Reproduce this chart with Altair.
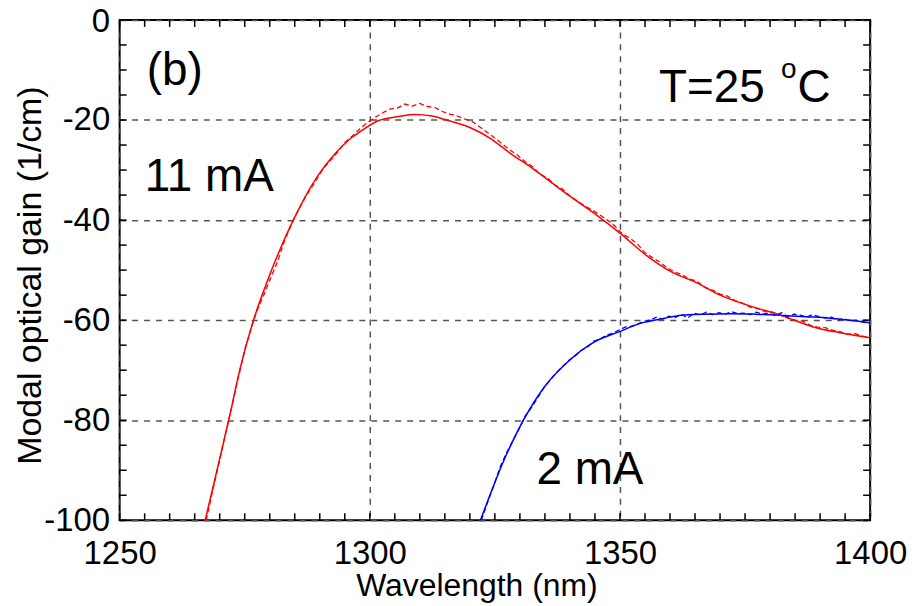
import altair as alt
import pandas as pd

# ---- data ----
red_fit_wl = [1267.1, 1269.5, 1271.8, 1274.0, 1276.6, 1279.6, 1284.7, 1289.5, 1293.0, 1296.4,
              1297.8, 1301.8, 1305.8, 1309.1, 1312.4, 1316.0, 1320.0, 1324.0, 1328.0, 1332.3,
              1339.0, 1345.6, 1350.0, 1355.6, 1360.0, 1365.5, 1370.0, 1375.5, 1382.1, 1388.8,
              1394.0, 1400.0]
red_fit_g = [-100.0, -89.8, -80.0, -70.0, -60.5, -52.0, -40.0, -31.3, -26.8, -23.5,
             -22.5, -20.1, -19.3, -18.9, -19.2, -20.2, -21.5, -23.6, -26.6, -29.5,
             -34.5, -39.2, -42.6, -47.3, -50.2, -52.6, -55.0, -57.0, -59.0, -61.4,
             -62.5, -63.5]

blue_fit_wl = [1322.1, 1323.7, 1326.3, 1330.7, 1335.0, 1339.6, 1345.0, 1349.9, 1354.2, 1359.0,
               1362.2, 1367.0, 1372.2, 1377.0, 1382.0, 1387.0, 1392.0, 1396.0, 1400.0]
blue_fit_g = [-100.0, -95.8, -89.2, -80.0, -73.2, -68.3, -64.3, -62.3, -60.6, -59.6,
              -59.0, -58.8, -58.7, -58.8, -59.0, -59.3, -59.6, -60.0, -60.5]

red_meas_wl = [1267.3, 1268.5, 1270.0, 1271.2, 1272.5, 1273.6, 1275.0, 1276.3, 1277.5, 1278.8,
               1280.0, 1281.5, 1283.0, 1284.5, 1286.0, 1287.5, 1289.0, 1290.5, 1292.0, 1293.5,
               1295.0, 1296.5, 1298.0, 1299.5, 1301.0, 1302.5, 1304.0, 1305.5, 1307.0, 1308.5,
               1310.0, 1311.5, 1313.0, 1314.5, 1316.0, 1317.5, 1319.0, 1320.5, 1322.0, 1323.5,
               1325.0, 1326.5, 1328.0, 1329.5, 1331.0, 1332.5, 1334.0, 1335.5, 1337.0, 1338.5,
               1340.0, 1341.5, 1343.0, 1344.5, 1346.0, 1347.5, 1349.0, 1350.5, 1352.0, 1353.5,
               1355.0, 1356.5, 1358.0, 1359.5, 1361.0, 1362.5, 1364.0, 1365.5, 1367.0, 1368.5,
               1370.0, 1371.5, 1373.0, 1374.5, 1376.0, 1377.5, 1379.0, 1380.5, 1382.0, 1383.5,
               1385.0, 1386.5, 1388.0, 1389.5, 1391.0, 1392.5, 1394.0, 1395.5, 1397.0, 1398.5, 1400.0]
red_meas_g = [-100.0, -94.5, -88.0, -82.5, -77.0, -72.0, -66.0, -61.5, -58.0, -55.0,
              -52.0, -48.5, -44.0, -40.5, -37.5, -34.8, -32.5, -30.0, -28.2, -26.5,
              -24.5, -23.2, -21.8, -20.5, -19.5, -18.6, -17.8, -17.6, -16.8, -17.2,
              -16.7, -17.3, -17.5, -18.3, -18.8, -19.2, -19.8, -20.3, -21.4, -22.5,
              -23.6, -24.8, -26.0, -27.0, -28.3, -29.3, -30.8, -31.6, -33.0, -33.8,
              -35.2, -36.2, -37.2, -38.0, -39.0, -40.0, -41.2, -42.8, -43.6, -44.8,
              -46.5, -47.5, -48.4, -49.6, -50.4, -51.0, -51.8, -52.3, -53.5, -54.0,
              -54.8, -55.2, -56.1, -56.6, -57.4, -57.7, -58.3, -58.4, -59.0, -59.6,
              -60.0, -60.2, -61.0, -61.4, -61.5, -62.0, -62.3, -62.8, -62.7, -63.2, -63.6]

blue_meas_wl = [1322.3, 1323.5, 1324.8, 1326.0, 1327.2, 1328.5, 1329.8, 1331.0, 1332.3, 1333.5,
                1334.8, 1336.0, 1337.3, 1338.5, 1339.8, 1341.0, 1342.3, 1343.5, 1344.8, 1346.0,
                1347.3, 1348.5, 1349.8, 1351.0, 1352.3, 1353.5, 1354.8, 1356.0, 1357.3, 1358.5,
                1359.8, 1361.0, 1362.3, 1363.5, 1364.8, 1366.0, 1367.3, 1368.5, 1369.8, 1371.0,
                1372.3, 1373.5, 1374.8, 1376.0, 1377.3, 1378.5, 1379.8, 1381.0, 1382.3, 1383.5,
                1384.8, 1386.0, 1387.3, 1388.5, 1389.8, 1391.0, 1392.3, 1393.5, 1394.8, 1396.0,
                1397.3, 1398.5, 1400.0]
blue_meas_g = [-100.0, -96.5, -93.0, -89.5, -86.8, -84.3, -81.8, -79.2, -77.5, -75.6,
               -73.5, -72.0, -70.5, -69.3, -68.0, -67.2, -66.0, -65.4, -64.2, -63.8,
               -63.0, -62.6, -62.0, -61.4, -61.2, -60.8, -60.2, -60.0, -59.4, -59.8,
               -59.2, -59.5, -58.8, -59.6, -58.6, -59.0, -58.4, -58.9, -58.5, -58.8,
               -58.3, -58.7, -58.6, -58.9, -58.4, -58.8, -58.6, -59.1, -58.5, -59.3,
               -58.8, -59.0, -59.4, -58.9, -59.3, -59.6, -59.4, -60.0, -59.7, -60.1,
               -60.0, -60.4, -60.6]

x_ticks_major = [1250, 1300, 1350, 1400]
y_ticks_major = [-100, -80, -60, -40, -20, 0]
x_ticks_minor = list(range(1250, 1401, 5))
y_ticks_minor = list(range(-100, 1, 5))

ann_text = ["(b)", "11 mA", "2 mA", "T=25", "o", "C"]
ann_x = [1255.4, 1255.0, 1333.3, 1357.8, 1382.2, 1385.5]
ann_y = [-13.1, -34.1, -92.8, -16.3, -11.6, -16.3]
ann_size = [46, 46, 46, 46, 28, 46]

# ---- build tables ----
fit = pd.concat([
    pd.DataFrame({"wl": red_fit_wl, "g": red_fit_g, "s": "11 mA"}),
    pd.DataFrame({"wl": blue_fit_wl, "g": blue_fit_g, "s": "2 mA"}),
])
meas = pd.concat([
    pd.DataFrame({"wl": red_meas_wl, "g": red_meas_g, "s": "11 mA"}),
    pd.DataFrame({"wl": blue_meas_wl, "g": blue_meas_g, "s": "2 mA"}),
])
ann = pd.DataFrame({"t": ann_text, "wl": ann_x, "g": ann_y, "sz": ann_size})
xt = pd.DataFrame({"wl": x_ticks_minor})
yt = pd.DataFrame({"g": y_ticks_minor})

W, H = 753, 502
TL = 7  # tick length in px
FONT = "Liberation Sans"
xs = alt.Scale(domain=[1250, 1400], nice=False, zero=False)
ys = alt.Scale(domain=[-100, 0], nice=False, zero=False)
cs = alt.Scale(domain=["11 mA", "2 mA"], range=["#ff0000", "#0000ff"])

x_axis = alt.Axis(
    orient="bottom", values=x_ticks_major, labelExpr="datum.value + ''", grid=True,
    gridDash=[6, 6], gridColor="#555555", gridWidth=1.5, gridOpacity=1, ticks=False,
    tickSize=0, domain=False, labelFontSize=33, labelFont=FONT, labelColor="#000000",
    labelPadding=17, labelFlush=False, title="Wavelength (nm)", titleFont=FONT,
    titleFontSize=32, titleFontWeight="normal", titleColor="#000000",
    titleX=358, titleY=75, titleBaseline="alphabetic", titleAlign="center")
y_axis = alt.Axis(
    orient="left", values=y_ticks_major, labelExpr="datum.value + ''", grid=True,
    gridDash=[6, 6], gridColor="#555555", gridWidth=1.5, gridOpacity=1, ticks=False,
    tickSize=0, domain=False, labelFontSize=33, labelFont=FONT, labelColor="#000000",
    labelPadding=10, labelFlush=False,
    labelOffset={"condition": {"test": "datum.value == 0", "value": 2}, "value": 0},
    title="Modal optical gain (1/cm)",
    titleFont=FONT, titleFontSize=34, titleFontWeight="normal",
    titleColor="#000000", titleX=-79, titleY=256, titleBaseline="alphabetic",
    titleAlign="center", titleAngle=270)

X = lambda: alt.X("wl:Q", scale=xs, axis=x_axis)
Y = lambda: alt.Y("g:Q", scale=ys, axis=y_axis)

fit_layer = alt.Chart(fit).mark_line(strokeWidth=1.5, interpolate="monotone").encode(
    x=X(), y=Y(), color=alt.Color("s:N", scale=cs, legend=None), detail="s:N")

meas_layer = alt.Chart(meas).mark_line(strokeWidth=1.3, strokeDash=[5, 3]).encode(
    x=X(), y=Y(), color=alt.Color("s:N", scale=cs, legend=None), detail="s:N")

text_layer = alt.Chart(ann).mark_text(align="left", baseline="alphabetic",
                                      font=FONT, color="#000000").encode(
    x=X(), y=Y(), text="t:N", size=alt.Size("sz:Q", scale=None))

tick_style = dict(color="#000000", strokeWidth=1.5)
xtick_bottom = alt.Chart(xt).mark_rule(**tick_style).encode(
    x=X(), y=alt.value(H), y2=alt.value(H - TL))
xtick_top = alt.Chart(xt).mark_rule(**tick_style).encode(
    x=X(), y=alt.value(0), y2=alt.value(TL))
ytick_left = alt.Chart(yt).mark_rule(**tick_style).encode(
    y=Y(), x=alt.value(0), x2=alt.value(TL))
ytick_right = alt.Chart(yt).mark_rule(**tick_style).encode(
    y=Y(), x=alt.value(W), x2=alt.value(W - TL))

chart = alt.layer(
    fit_layer, meas_layer, xtick_bottom, xtick_top, ytick_left, ytick_right, text_layer
).properties(
    width=W, height=H,
    autosize=alt.AutoSizeParams(type="none"),
    padding={"left": 112, "top": 11, "right": 40, "bottom": 85},
    background="#ffffff",
).configure_view(stroke="#000000", strokeWidth=2)

chart.save("out.html", embed_options={"renderer": "svg", "actions": False})
